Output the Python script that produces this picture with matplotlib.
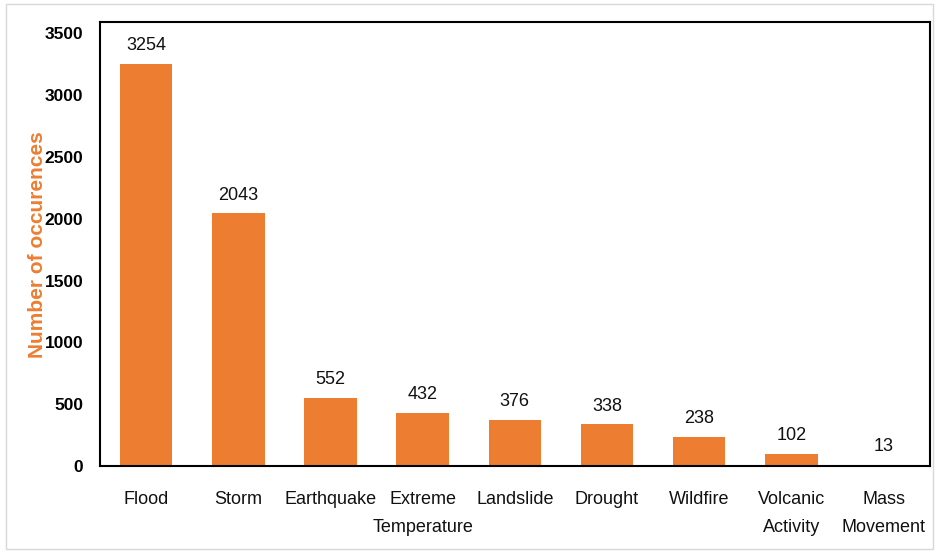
import matplotlib.pyplot as plt
from matplotlib.patches import Rectangle

categories = ['Flood', 'Storm', 'Earthquake', 'Extreme\nTemperature', 'Landslide',
              'Drought', 'Wildfire', 'Volcanic\nActivity', 'Mass\nMovement']
counts = [3254, 2043, 552, 432, 376, 338, 238, 102, 13]
yticks = [0, 500, 1000, 1500, 2000, 2500, 3000, 3500]

plt.rcParams['font.family'] = ['Liberation Sans', 'DejaVu Sans']
orange = '#ED7D31'

fig = plt.figure(figsize=(9.39, 5.53), dpi=100)
ax = fig.add_axes([0.1065, 0.157, 0.8835, 0.803])

x = range(len(categories))
ax.bar(x, counts, width=0.57, color=orange)
for xi, c in zip(x, counts):
    ax.annotate(str(c), (xi, c), xytext=(0, 7), textcoords='offset points',
                ha='center', va='bottom', fontsize=13, color='#111111')

ax.set_xlim(-0.5, len(categories) - 0.5)
ax.set_ylim(0, 3590)
ax.set_yticks(yticks)
ax.set_xticks(list(x))
ax.set_xticklabels(categories, fontsize=13, linespacing=1.8, color='#111111')
ax.tick_params(axis='x', length=0, pad=18)
ax.tick_params(axis='y', length=0, pad=12, labelsize=12.5)
for lab in ax.get_yticklabels():
    lab.set_fontweight('bold')

for s in ax.spines.values():
    s.set_linewidth(1.5)
    s.set_color('black')

ax.set_ylabel('Number of occurences', color=orange, fontsize=15, fontweight='bold',
              labelpad=-2)

# light frame round the whole picture
fig.patches.append(Rectangle((0.006, 0.008), 0.988, 0.984, transform=fig.transFigure,
                             fill=False, edgecolor='#d8d8d8', linewidth=1))

plt.savefig('out.png', dpi=100)
